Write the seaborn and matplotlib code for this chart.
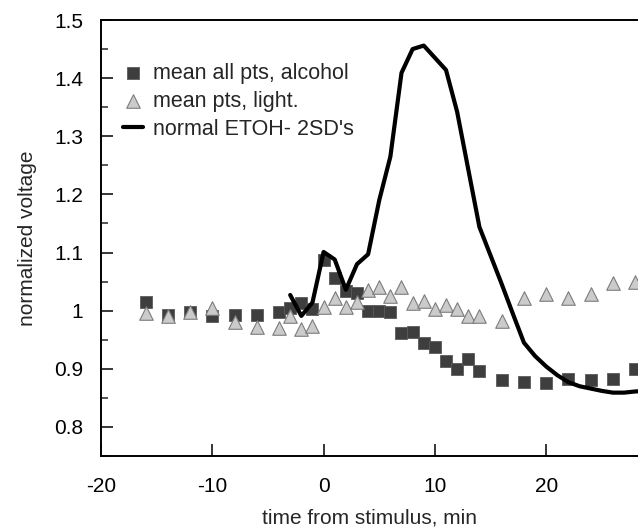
import matplotlib
matplotlib.use("Agg")
import matplotlib.pyplot as plt
import seaborn as sns
import pandas as pd
from matplotlib.ticker import MultipleLocator, FormatStrFormatter

# data
sq_x = [-16, -14, -12, -10, -8, -6, -4, -3, -2, -1, 0, 1, 2, 3, 4, 5, 6, 7, 8, 9,
        10, 11, 12, 13, 14, 16, 18, 20, 22, 24, 26, 28]
sq_y = [1.015, 0.993, 0.998, 0.991, 0.993, 0.993, 0.998, 1.004, 1.014, 1.003,
        1.088, 1.057, 1.033, 1.031, 1.000, 1.000, 0.998, 0.962, 0.964, 0.945,
        0.938, 0.914, 0.900, 0.916, 0.897, 0.880, 0.878, 0.875, 0.883, 0.880,
        0.883, 0.900]

tri_x = [-16, -14, -12, -10, -8, -6, -4, -3, -2, -1, 0, 1, 2, 3, 4, 5, 6, 7, 8, 9,
         10, 11, 12, 13, 14, 16, 18, 20, 22, 24, 26, 28]
tri_y = [0.996, 0.990, 0.998, 1.005, 0.981, 0.972, 0.971, 0.990, 0.969, 0.974,
         1.007, 1.021, 1.007, 1.015, 1.036, 1.040, 1.026, 1.040, 1.014, 1.017,
         1.003, 1.010, 1.003, 0.990, 0.990, 0.983, 1.021, 1.028, 1.022, 1.029,
         1.048, 1.050]

ln_x = [-3, -2, -1, 0, 1, 2, 3, 4, 5, 6, 7, 8, 9, 10, 11, 12, 13, 14, 15, 16, 17,
        18, 19, 20, 21, 22, 23, 24, 25, 26, 27, 28, 29]
ln_y = [1.027, 0.991, 1.014, 1.101, 1.088, 1.036, 1.080, 1.097, 1.190, 1.265,
        1.409, 1.450, 1.456, 1.435, 1.414, 1.342, 1.243, 1.144, 1.095, 1.046,
        0.995, 0.945, 0.922, 0.904, 0.889, 0.877, 0.870, 0.866, 0.862, 0.859,
        0.859, 0.861, 0.862]

lab_sq = "mean all pts, alcohol"
lab_tri = "mean pts, light."
lab_ln = "normal ETOH- 2SD's"

sq = pd.DataFrame({"x": sq_x, "y": sq_y})
tri = pd.DataFrame({"x": tri_x, "y": tri_y})
ln = pd.DataFrame({"x": ln_x, "y": ln_y})

sns.set_style("ticks")
plt.rcParams["font.family"] = ["Liberation Sans", "DejaVu Sans"]
plt.rcParams["axes.unicode_minus"] = False

fig = plt.figure(figsize=(6.38, 5.27), dpi=100)
ax = fig.add_axes([101 / 638, 71 / 527, 537 / 638, 436 / 527])

sns.scatterplot(data=sq, x="x", y="y", marker="s", s=80, color="#3e3e3e",
                edgecolor="#5a5a5a", linewidth=0.6, label=lab_sq, zorder=2, ax=ax)
sns.scatterplot(data=tri, x="x", y="y", marker="^", s=95, color="#cbcbcb",
                edgecolor="#7c7c7c", linewidth=0.8, label=lab_tri, zorder=3, ax=ax)
sns.lineplot(data=ln, x="x", y="y", color="black", linewidth=3.0,
             label=lab_ln, zorder=4, ax=ax)

ax.set_xlim(-20, 28.25)
ax.set_ylim(0.75, 1.5)
ax.xaxis.set_major_locator(MultipleLocator(10))
ax.yaxis.set_major_locator(MultipleLocator(0.1))
ax.yaxis.set_minor_locator(MultipleLocator(0.05))
ax.yaxis.set_major_formatter(FormatStrFormatter("%g"))

ax.tick_params(axis="both", which="major", direction="in", length=8.5,
               width=1.1, labelsize=15, colors="black")
ax.tick_params(axis="y", which="minor", direction="in", length=5, width=1.1)
ax.tick_params(axis="x", pad=15)
ax.tick_params(axis="y", pad=13)

for side in ["left", "bottom", "top"]:
    ax.spines[side].set_linewidth(1.4)
    ax.spines[side].set_color("black")
ax.spines["right"].set_visible(False)

ax.set_xlabel("time from stimulus, min", fontsize=15, labelpad=9)
ax.set_ylabel("normalized voltage", fontsize=15, labelpad=12)

ax.legend(loc="upper left", bbox_to_anchor=(0.041, 0.902), frameon=False,
          fontsize=15.5, handlelength=0.95, handletextpad=0.45,
          borderpad=0, borderaxespad=0, labelspacing=0.33)

plt.savefig("out.png", dpi=100)
